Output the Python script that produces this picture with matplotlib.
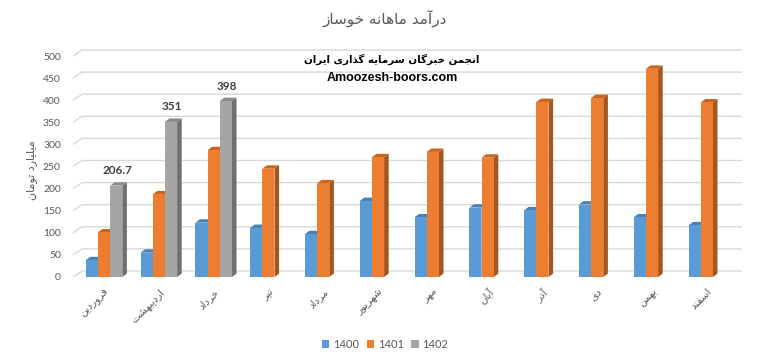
import matplotlib
matplotlib.use('Agg')
import matplotlib.pyplot as plt
from matplotlib.patches import Polygon, Patch
import numpy as np

# ---------------- data ----------------
months = ['فروردین', 'اردیبهشت', 'خرداد', 'تیر', 'مرداد', 'شهریور',
          'مهر', 'آبان', 'آذر', 'دی', 'بهمن', 'اسفند']
series_names = ['1400', '1401', '1402']
v1400 = [38, 55, 123, 111, 97, 172, 135, 157, 151, 164, 135, 117]
v1401 = [101, 187, 287, 245, 212, 271, 283, 270, 396, 405, 471, 395]
v1402 = [206.7, 351, 398, np.nan, np.nan, np.nan, np.nan, np.nan, np.nan, np.nan, np.nan, np.nan]
label_1402 = ['206.7', '351', '398']
yticks = [0, 50, 100, 150, 200, 250, 300, 350, 400, 450, 500]
title_text = 'درآمد ماهانه خوساز'
ylabel_text = 'میلیارد تومان'
wm_line1 = 'انجمن خبرگان سرمایه گذاری ایران'
wm_line2 = 'Amoozesh-boors.com'

# ---------------- simple Persian shaping ----------------
FORMS = {
    'ا': (0xFE8D, 0xFE8E), 'آ': (0xFE81, 0xFE82), 'د': (0xFEA9, 0xFEAA),
    'ذ': (0xFEAB, 0xFEAC), 'ر': (0xFEAD, 0xFEAE), 'ز': (0xFEAF, 0xFEB0),
    'ژ': (0xFB8A, 0xFB8B), 'و': (0xFEED, 0xFEEE),
    'ب': (0xFE8F, 0xFE90, 0xFE91, 0xFE92), 'پ': (0xFB56, 0xFB57, 0xFB58, 0xFB59),
    'ت': (0xFE95, 0xFE96, 0xFE97, 0xFE98), 'ث': (0xFE99, 0xFE9A, 0xFE9B, 0xFE9C),
    'ج': (0xFE9D, 0xFE9E, 0xFE9F, 0xFEA0), 'چ': (0xFB7A, 0xFB7B, 0xFB7C, 0xFB7D),
    'ح': (0xFEA1, 0xFEA2, 0xFEA3, 0xFEA4), 'خ': (0xFEA5, 0xFEA6, 0xFEA7, 0xFEA8),
    'س': (0xFEB1, 0xFEB2, 0xFEB3, 0xFEB4), 'ش': (0xFEB5, 0xFEB6, 0xFEB7, 0xFEB8),
    'ص': (0xFEB9, 0xFEBA, 0xFEBB, 0xFEBC), 'ض': (0xFEBD, 0xFEBE, 0xFEBF, 0xFEC0),
    'ط': (0xFEC1, 0xFEC2, 0xFEC3, 0xFEC4), 'ظ': (0xFEC5, 0xFEC6, 0xFEC7, 0xFEC8),
    'ع': (0xFEC9, 0xFECA, 0xFECB, 0xFECC), 'غ': (0xFECD, 0xFECE, 0xFECF, 0xFED0),
    'ف': (0xFED1, 0xFED2, 0xFED3, 0xFED4), 'ق': (0xFED5, 0xFED6, 0xFED7, 0xFED8),
    'ک': (0xFB8E, 0xFB8F, 0xFB90, 0xFB91), 'گ': (0xFB92, 0xFB93, 0xFB94, 0xFB95),
    'ل': (0xFEDD, 0xFEDE, 0xFEDF, 0xFEE0), 'م': (0xFEE1, 0xFEE2, 0xFEE3, 0xFEE4),
    'ن': (0xFEE5, 0xFEE6, 0xFEE7, 0xFEE8), 'ه': (0xFEE9, 0xFEEA, 0xFEEB, 0xFEEC),
    'ی': (0xFBFC, 0xFBFD, 0xFBFE, 0xFBFF),
}


def shape(s):
    out = []
    for i, c in enumerate(s):
        if c not in FORMS:
            out.append(c)
            continue
        f = FORMS[c]
        prev = s[i - 1] if i > 0 else None
        nxt = s[i + 1] if i + 1 < len(s) else None
        jp = prev in FORMS and len(FORMS[prev]) == 4
        jn = len(f) == 4 and nxt in FORMS
        if jp and jn:
            code = f[3]
        elif jp:
            code = f[1]
        elif jn:
            code = f[2]
        else:
            code = f[0]
        out.append(chr(code))
    return ''.join(reversed(out))


plt.rcParams['font.family'] = ['Lato', 'DejaVu Sans']

TXT = '#595959'
colors = ['#5B9BD5', '#ED7D31', '#A5A5A5']
tops = ['#4A82B8', '#C9651F', '#8A8A8A']
sides = ['#3E6D9C', '#A4561E', '#707070']

W, H, DPI = 771, 362, 100
fig = plt.figure(figsize=(W / DPI, H / DPI), dpi=DPI)
left_px, right_px, bot_px, top_px = 65, 745, 277, 56
ax = fig.add_axes([left_px / W, 1 - bot_px / H, (right_px - left_px) / W, (bot_px - top_px) / H])

x = np.arange(len(months))
spacing_px = 54.8
c0_px = 104
ax.set_xlim(-(c0_px - left_px) / spacing_px, (right_px - c0_px) / spacing_px)
ax.set_ylim(0, 500)

pxx = spacing_px            # pixels per x unit
pxy = (bot_px - top_px) / 500.0  # pixels per y unit
bw = 12.2 / pxx
ddx, ddy = 4.6 / pxx, 3.4 / pxy

# back-wall gridlines
gdx, gdy = 9 / pxx, 6 / pxy
x_front = ax.get_xlim()[0] + 8 / pxx
x_back_end = ax.get_xlim()[0] + (742 - left_px) / pxx
for t in yticks:
    ax.plot([x_front, x_front + gdx, x_back_end], [t, t + gdy, t + gdy],
            color='#D9D9D9', lw=1.0, zorder=1, clip_on=False, solid_capstyle='butt')

all_series = [v1400, v1401, v1402]
for j, vals in enumerate(all_series):
    vals = np.array(vals, dtype=float)
    pos = x + (j - 1) * bw
    z = 3 + j
    bars = ax.bar(pos, vals, width=bw, color=colors[j], zorder=z, linewidth=0)
    for rect, v in zip(bars, vals):
        if np.isnan(v):
            continue
        x0 = rect.get_x()
        w = rect.get_width()
        top = Polygon([(x0, v), (x0 + w, v), (x0 + w + ddx, v + ddy), (x0 + ddx, v + ddy)],
                      closed=True, facecolor=tops[j], edgecolor='none', zorder=z - 0.5, clip_on=False)
        side = Polygon([(x0 + w, 0), (x0 + w + ddx, ddy), (x0 + w + ddx, v + ddy), (x0 + w, v)],
                       closed=True, facecolor=sides[j], edgecolor='none', zorder=z - 0.5, clip_on=False)
        ax.add_patch(top)
        ax.add_patch(side)

# data labels for 1402
for i, lab in enumerate(label_1402):
    ax.annotate(lab, (x[i] + bw, v1402[i]), xytext=(1, 15), textcoords='offset pixels',
                ha='center', va='center', fontsize=8.5, fontweight='bold', color='#404040', zorder=10)

for s in ax.spines.values():
    s.set_visible(False)
ax.set_yticks(yticks)
ax.set_yticklabels([str(t) for t in yticks])
ax.tick_params(axis='y', length=0, pad=3, labelsize=7.5, labelcolor=TXT)
ax.set_xticks(x)
ax.set_xticklabels([shape(m) for m in months], rotation=45, ha='right', va='top',
                   rotation_mode='anchor', family=['DejaVu Sans'])
ax.tick_params(axis='x', length=0, pad=7, labelsize=7.5, labelcolor=TXT)

fig.text(32 / W, 1 - 170 / H, shape(ylabel_text), rotation=90, ha='center', va='center',
         fontsize=8, color=TXT, family=['DejaVu Sans'])
fig.text(385 / W, 1 - 18 / H, shape(title_text), ha='center', va='center',
         fontsize=11, color=TXT, family=['DejaVu Sans'])
fig.text(392 / W, 1 - 59 / H, shape(wm_line1), ha='center', va='center',
         fontsize=7.4, fontweight='bold', color='black', family=['DejaVu Sans'])
fig.text(392 / W, 1 - 78 / H, wm_line2, ha='center', va='center',
         fontsize=9, fontweight='bold', color='black', family=['Liberation Sans'])

handles = [Patch(facecolor=c, edgecolor='none') for c in colors]
leg = fig.legend(handles, series_names, loc='center', bbox_to_anchor=(385 / W, 1 - 344 / H),
                 ncol=3, frameon=False, fontsize=8, handlelength=0.7, handleheight=0.7,
                 handletextpad=0.3, columnspacing=0.7, labelcolor=TXT)

fig.savefig('out.png', dpi=DPI)
